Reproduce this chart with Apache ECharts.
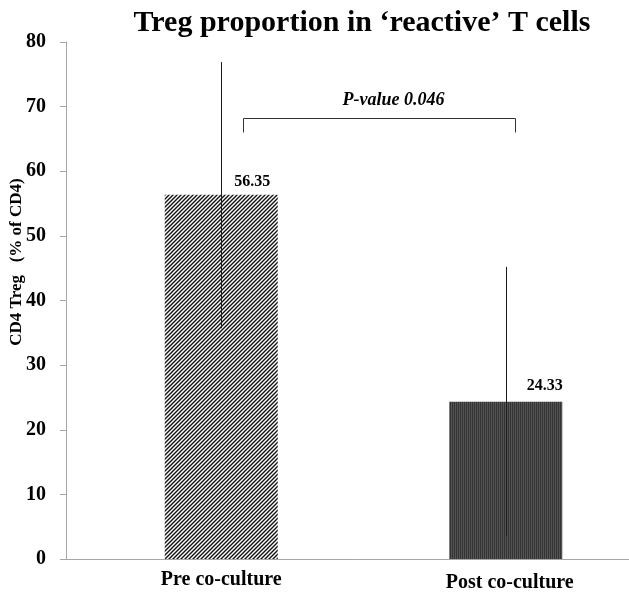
<!DOCTYPE html>
<html>
<head>
<meta charset="utf-8">
<script src="https://cdn.jsdelivr.net/npm/echarts@6/dist/echarts.min.js"></script>
<style>
html,body{margin:0;padding:0;background:#fff;}
#chart{width:629px;height:594px;}
</style>
</head>
<body>
<div id="chart"></div>
<script>
// ---- data ----
const titleText = 'Treg proportion in \u2018reactive\u2019 T cells';
const yAxisTitle = 'CD4 Treg   (% of CD4)';
const categories = ['Pre co-culture', 'Post co-culture'];
const values = [56.35, 24.33];
const errLow = [35.7, 3.6];
const errHigh = [76.9, 45.2];
const yMin = 0, yMax = 80, yInterval = 10;
const pValueText = 'P-value 0.046';
const bracketTop = [68.2];
const bracketDrop = [66.0];

// ---- patterns ----
function hatchPattern() {
  const c = document.createElement('canvas');
  c.width = 4; c.height = 4;
  const g = c.getContext('2d');
  g.fillStyle = '#ffffff'; g.fillRect(0, 0, 4, 4);
  g.strokeStyle = '#111111'; g.lineWidth = 1.4;
  g.beginPath();
  g.moveTo(-1, 5); g.lineTo(5, -1);
  g.moveTo(-1, 1); g.lineTo(1, -1);
  g.moveTo(3, 5); g.lineTo(5, 3);
  g.stroke();
  return c;
}
function stripePattern() {
  const c = document.createElement('canvas');
  c.width = 2; c.height = 2;
  const g = c.getContext('2d');
  g.fillStyle = '#333333'; g.fillRect(0, 0, 1, 2);
  g.fillStyle = '#545454'; g.fillRect(1, 0, 1, 2);
  return c;
}
const fills = [
  { image: hatchPattern(), repeat: 'repeat' },
  { image: stripePattern(), repeat: 'repeat' }
];
const labelOffsets = [[31, 0], [39, -3]];

const serif = '"Liberation Serif", "Times New Roman", serif';
const chart = echarts.init(document.getElementById('chart'), null, { renderer: 'canvas' });

const option = {
  animation: false,
  backgroundColor: '#ffffff',
  title: {
    text: titleText,
    left: 357,
    textAlign: 'center',
    top: 3,
    textStyle: { fontFamily: serif, fontWeight: 'bold', fontSize: 30, color: '#000' }
  },
  grid: { left: 79, top: 42, width: 569, height: 517, outerBoundsMode: 'none', containLabel: false },
  xAxis: {
    type: 'category',
    data: categories,
    axisLine: { lineStyle: { color: '#a6a6a6', width: 1 } },
    axisTick: { show: false },
    axisLabel: {
      fontFamily: serif, fontWeight: 'bold', fontSize: 20, color: '#000', margin: 11,
      formatter: (v, i) => (i === 1 ? '{b|' + v + '}' : '{a|' + v + '}'),
      rich: {
        a: { fontFamily: serif, fontWeight: 'bold', fontSize: 20, color: '#000' },
        b: { fontFamily: serif, fontWeight: 'bold', fontSize: 20, color: '#000', padding: [3, 0, 0, 8] }
      }
    }
  },
  yAxis: {
    type: 'value',
    min: yMin, max: yMax, interval: yInterval,
    offset: 13,
    axisLine: { show: true, lineStyle: { color: '#a6a6a6', width: 1 } },
    axisTick: { show: true, inside: false, length: 6, lineStyle: { color: '#a6a6a6' } },
    splitLine: { show: false },
    axisLabel: { fontFamily: serif, fontWeight: 'bold', fontSize: 20, color: '#000', margin: 20 }
  },
  series: [
    {
      type: 'bar',
      barWidth: 113,
      data: values.map((v, i) => ({
        value: v,
        itemStyle: { color: fills[i] },
        label: { offset: labelOffsets[i] }
      })),
      label: {
        show: true, position: 'top', distance: 5,
        formatter: p => p.value.toFixed(2),
        fontFamily: serif, fontWeight: 'bold', fontSize: 16, color: '#000'
      }
    },
    {
      type: 'custom',
      data: categories.map((c, i) => [i, errLow[i], errHigh[i]]),
      encode: { x: 0, y: [1, 2] },
      z: 5,
      renderItem: (params, api) => {
        const lo = api.coord([api.value(0), api.value(1)]);
        const hi = api.coord([api.value(0), api.value(2)]);
        const x = Math.round(lo[0]) + 0.5;
        return {
          type: 'line',
          shape: { x1: x, y1: lo[1], x2: x, y2: hi[1] },
          style: { stroke: '#1a1a1a', lineWidth: 1 }
        };
      }
    },
    {
      type: 'custom',
      data: [[0, bracketTop[0], bracketDrop[0]]],
      encode: { x: 0, y: [1, 2] },
      z: 5,
      renderItem: (params, api) => {
        const a = api.coord([0, api.value(1)]);
        const b = api.coord([1, api.value(1)]);
        const d = api.coord([0, api.value(2)]);
        const xl = Math.round(a[0] + 22) + 0.5;
        const xr = Math.round(b[0] + 9) + 0.5;
        const yt = Math.round(a[1]) + 0.5;
        return {
          type: 'group',
          children: [
            {
              type: 'polyline',
              shape: { points: [[xl, d[1]], [xl, yt], [xr, yt], [xr, d[1]]] },
              style: { stroke: '#333333', lineWidth: 1, fill: null }
            },
            {
              type: 'text',
              x: (xl + xr) / 2 + 14,
              y: yt - 18,
              style: {
                text: pValueText, align: 'center', verticalAlign: 'middle',
                font: 'italic bold 18px ' + serif, fill: '#000'
              }
            }
          ]
        };
      }
    }
  ],
  graphic: [
    {
      type: 'text',
      x: 17, y: 262,
      rotation: Math.PI / 2,
      style: {
        text: yAxisTitle, align: 'center', verticalAlign: 'middle',
        font: 'bold 17px ' + serif, fill: '#000'
      }
    }
  ]
};
chart.setOption(option);

// extend the baseline under the y axis, as in the reference
const y0 = chart.convertToPixel({ yAxisIndex: 0 }, 0);
chart.setOption({
  graphic: [
    option.graphic[0],
    {
      type: 'line',
      shape: { x1: 60, y1: Math.round(y0) + 0.5, x2: 80, y2: Math.round(y0) + 0.5 },
      style: { stroke: '#a6a6a6', lineWidth: 1 }
    }
  ]
});
</script>
</body>
</html>
